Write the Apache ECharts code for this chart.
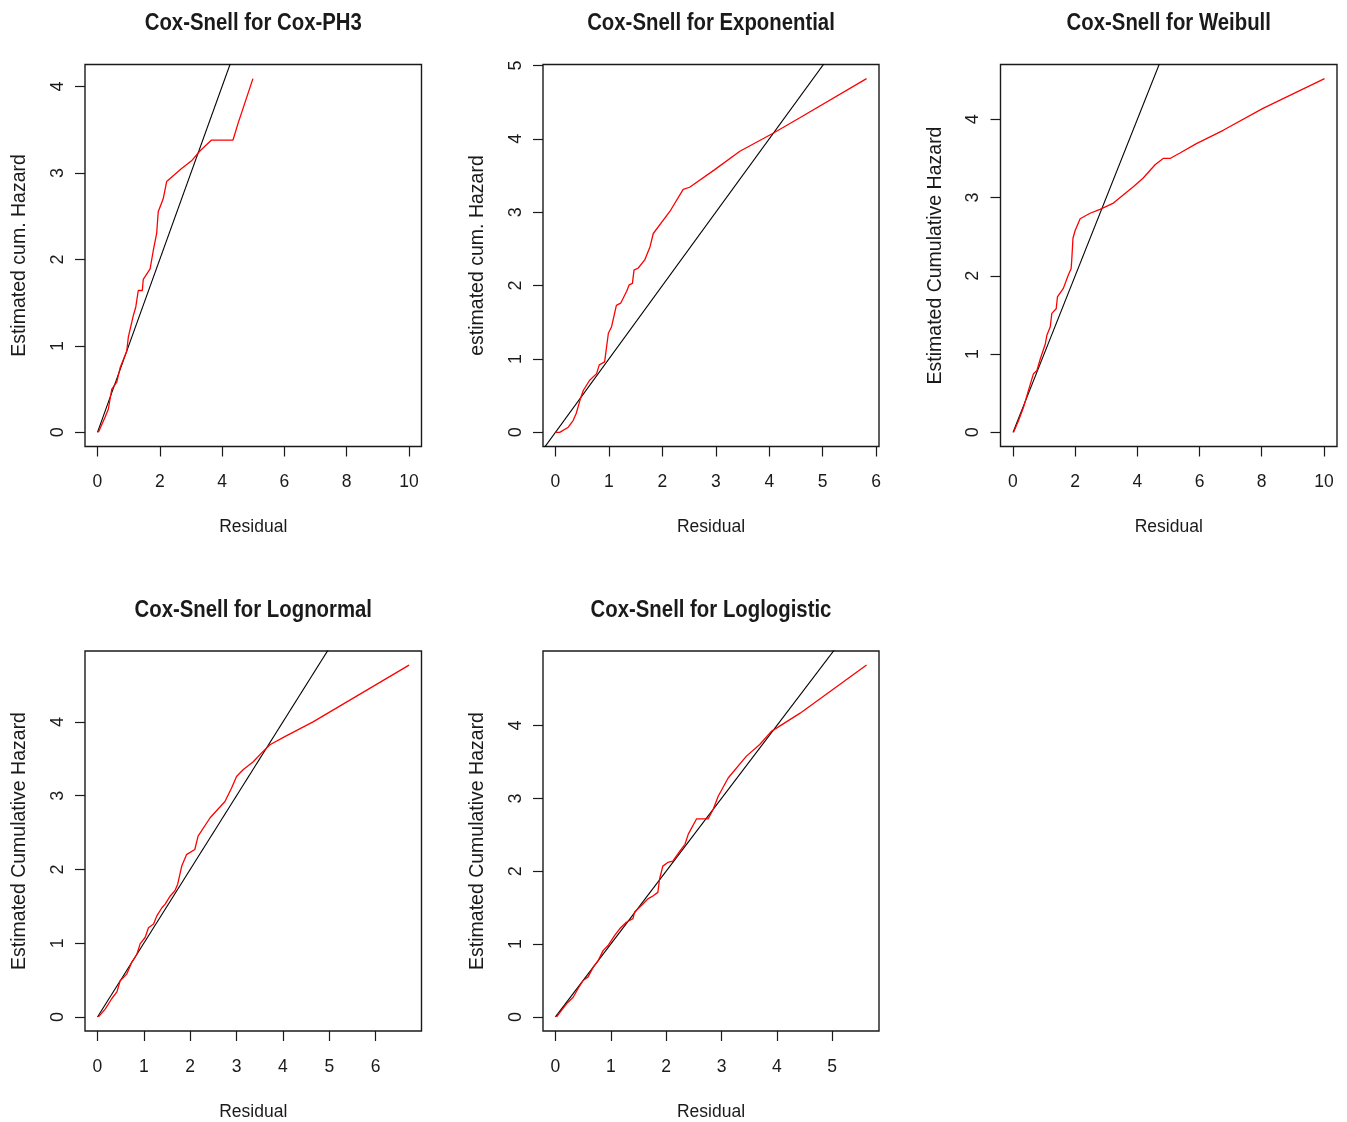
<!DOCTYPE html>
<html>
<head>
<meta charset="utf-8">
<script src="https://cdn.jsdelivr.net/npm/echarts@6/dist/echarts.min.js"></script>
<style>
html,body{margin:0;padding:0;background:#fff;}
#chart{width:1347px;height:1122px;}
</style>
</head>
<body>
<div id="chart"></div>
<script>
// ---------------- DATA ----------------
const titles = ['Cox-Snell for Cox-PH3', 'Cox-Snell for Exponential', 'Cox-Snell for Weibull', 'Cox-Snell for Lognormal', 'Cox-Snell for Loglogistic'];
const yNames = ['Estimated cum. Hazard', 'estimated cum. Hazard', 'Estimated Cumulative Hazard', 'Estimated Cumulative Hazard', 'Estimated Cumulative Hazard'];
const xName = 'Residual';

// Cox-PH3
const p1X = [0.03,0.25,0.35,0.46,0.62,0.73,0.94,0.99,1.15,1.23,1.31,1.44,1.47,1.69,1.79,1.90,1.95,2.11,2.22,2.70,3.02,3.28,3.66,4.35,4.51,4.99];
const p1Y = [0,0.18,0.27,0.50,0.58,0.75,0.94,1.10,1.35,1.45,1.64,1.64,1.77,1.89,2.10,2.30,2.55,2.70,2.90,3.05,3.14,3.25,3.38,3.38,3.57,4.09];
// Exponential
const p2X = [0,0.08,0.24,0.33,0.39,0.46,0.52,0.64,0.77,0.82,0.92,0.99,1.05,1.14,1.22,1.33,1.38,1.44,1.47,1.55,1.67,1.77,1.83,2.14,2.39,2.51,2.98,3.45,4.08,4.58,5.82];
const p2Y = [0,0,0.07,0.16,0.26,0.44,0.57,0.71,0.80,0.92,0.96,1.35,1.44,1.73,1.76,1.92,2.01,2.03,2.21,2.24,2.35,2.53,2.71,3.01,3.31,3.34,3.58,3.83,4.08,4.29,4.82];
// Weibull
const p3X = [0.02,0.18,0.34,0.50,0.66,0.77,0.88,1.04,1.09,1.20,1.25,1.39,1.43,1.62,1.78,1.87,1.89,1.93,2.00,2.16,2.48,2.80,3.23,3.87,4.19,4.57,4.83,5.05,5.37,5.90,6.76,8.04,10.02];
const p3Y = [0,0.15,0.32,0.54,0.75,0.79,0.94,1.13,1.24,1.35,1.52,1.58,1.73,1.84,2.01,2.09,2.20,2.48,2.58,2.73,2.80,2.85,2.93,3.14,3.25,3.42,3.50,3.50,3.57,3.69,3.86,4.14,4.52];
// Lognormal
const p4X = [0.02,0.17,0.31,0.42,0.49,0.63,0.74,0.85,0.92,1.03,1.10,1.21,1.28,1.39,1.46,1.57,1.67,1.73,1.82,1.92,2.10,2.17,2.43,2.75,2.89,3.00,3.14,3.36,3.54,3.72,4.04,4.65,6.72];
const p4Y = [0,0.11,0.25,0.34,0.49,0.58,0.74,0.85,0.99,1.08,1.21,1.26,1.37,1.48,1.53,1.64,1.71,1.80,2.05,2.20,2.27,2.45,2.70,2.92,3.10,3.26,3.35,3.46,3.58,3.69,3.80,4.00,4.77];
// Loglogistic
const p5X = [0.02,0.20,0.32,0.41,0.50,0.59,0.68,0.77,0.86,0.95,1.07,1.16,1.28,1.40,1.43,1.58,1.67,1.76,1.85,1.88,1.94,2.03,2.12,2.25,2.34,2.40,2.55,2.76,2.85,2.94,3.12,3.45,3.69,3.90,4.42,5.62];
const p5Y = [0,0.18,0.27,0.39,0.50,0.55,0.68,0.77,0.91,0.98,1.12,1.21,1.30,1.35,1.44,1.55,1.62,1.66,1.71,1.89,2.07,2.12,2.14,2.28,2.37,2.51,2.72,2.72,2.85,3.03,3.28,3.58,3.74,3.92,4.17,4.83];

// data ranges (before R's 4% extension)
const xLims = [[0,10],[0,5.82],[0,10.02],[0,6.72],[0,5.62]];
const yLims = [[0,4.09],[0,4.82],[0,4.52],[0,4.77],[0,4.83]];
// reference line y = x start
const refStart = [0,-1,0,0,0];

// tick labels
const xTicks = [[0,2,4,6,8,10],[0,1,2,3,4,5,6],[0,2,4,6,8,10],[0,1,2,3,4,5,6],[0,1,2,3,4,5]];
const yTicks = [[0,1,2,3,4],[0,1,2,3,4,5],[0,1,2,3,4],[0,1,2,3,4],[0,1,2,3,4]];

const seriesX = [p1X,p2X,p3X,p4X,p5X];
const seriesY = [p1Y,p2Y,p3Y,p4Y,p5Y];

// ---------------- LAYOUT ----------------
const boxes = [
  {left:85, top:64.5, width:336.5, height:382},
  {left:543, top:64.5, width:336, height:382},
  {left:1000.5, top:64.5, width:336.5, height:382},
  {left:85, top:651, width:336.5, height:382},
  {left:543, top:651, width:336, height:382}
];
const font = '"Liberation Sans",Arial,sans-serif';
const ink = '#1a1a1a';

function ext(l){const r=l[1]-l[0];return [l[0]-0.04*r,l[1]+0.04*r];}

const grid=[], xAxis=[], yAxis=[], series=[], graphic=[];
boxes.forEach((b,i)=>{
  grid.push({left:b.left, top:b.top, width:b.width, height:b.height, show:true, borderColor:ink, borderWidth:1.4, backgroundColor:'transparent'});
  const xr=ext(xLims[i]), yr=ext(yLims[i]);
  xAxis.push({gridIndex:i, type:'value', min:xr[0], max:xr[1], position:'bottom',
    axisLine:{show:false, onZero:false},
    axisTick:{show:true, inside:false, length:10, customValues:xTicks[i], lineStyle:{color:ink, width:1.2}},
    axisLabel:{show:true, customValues:xTicks[i], margin:27, fontSize:17.5, fontFamily:font, color:ink, formatter:v=>String(v)},
    splitLine:{show:false},
    name:xName, nameLocation:'middle', nameGap:72,
    nameTextStyle:{fontSize:17.5, fontFamily:font, color:ink}
  });
  yAxis.push({gridIndex:i, type:'value', min:yr[0], max:yr[1], position:'left',
    axisLine:{show:false, onZero:false},
    axisTick:{show:true, inside:false, length:10, customValues:yTicks[i], lineStyle:{color:ink, width:1.2}},
    axisLabel:{show:true, customValues:yTicks[i], rotate:90, margin:18, fontSize:18, fontFamily:font, color:ink, formatter:v=>String(v)},
    splitLine:{show:false},
    name:yNames[i], nameLocation:'middle', nameGap:55, nameRotate:90,
    nameTextStyle:{fontSize:19.5, fontFamily:font, color:ink}
  });
  const pts = seriesX[i].map((x,k)=>[x, seriesY[i][k]]);
  series.push({type:'line', xAxisIndex:i, yAxisIndex:i, data:pts, showSymbol:false, symbol:'none', clip:true,
    lineStyle:{color:'#ff0000', width:1.3}, z:3, animation:false});
  const s=refStart[i], e=Math.max(xr[1],yr[1])+1;
  series.push({type:'line', xAxisIndex:i, yAxisIndex:i, data:[[s,s],[e,e]], showSymbol:false, symbol:'none', clip:true,
    lineStyle:{color:'#000', width:1.1}, z:2, animation:false});
  graphic.push({type:'text', x:b.left+b.width/2, y:b.top-40.5, scaleX:0.885, scaleY:1,
    style:{text:titles[i], x:0, y:0, textAlign:'center', textVerticalAlign:'middle', font:'bold 23px '+font, fill:ink}});
});

const chart = echarts.init(document.getElementById('chart'), null, {renderer:'canvas'});
chart.setOption({animation:false, backgroundColor:'#fff', grid, xAxis, yAxis, series, graphic});
</script>
</body>
</html>
